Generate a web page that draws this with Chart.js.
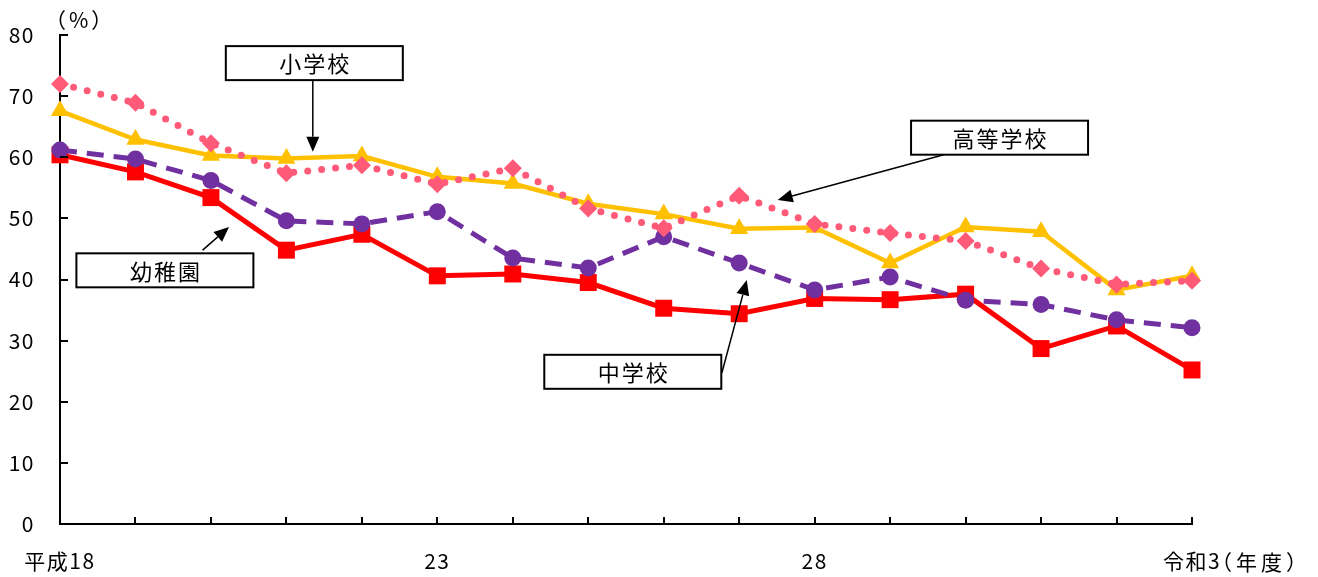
<!DOCTYPE html>
<html>
<head>
<meta charset="utf-8">
<script src="https://cdn.jsdelivr.net/npm/chart.js@4"></script>
<style>
  body { margin: 0; background: #fff; }
  canvas { display: block; }
</style>
</head>
<body>
<canvas id="chart" width="1318" height="577"></canvas>
<script>
// 年度ラベル（表示するのは平成18・23・28・令和3だけ）
const years = ['平成18', '', '', '', '', '23', '', '', '', '', '28', '', '', '', '', '令和3'];

// 各校種の値（%）
const youchien = [60.4, 57.6, 53.4, 44.8, 47.4, 40.6, 40.9, 39.5, 35.3, 34.4, 36.9, 36.7, 37.6, 28.7, 32.4, 25.2];
const shougakkou = [67.6, 62.9, 60.3, 59.8, 60.2, 56.8, 55.7, 52.4, 50.7, 48.3, 48.5, 42.7, 48.6, 47.8, 38.3, 40.6];
const chuugakkou = [61.2, 59.7, 56.2, 49.6, 49.1, 51.1, 43.5, 41.9, 47.0, 42.7, 38.3, 40.4, 36.6, 35.9, 33.4, 32.1];
const koutougakkou = [72.0, 68.9, 62.3, 57.4, 58.7, 55.6, 58.2, 51.6, 48.4, 53.7, 49.1, 47.6, 46.3, 41.8, 39.2, 39.8];

const yTicks = [0, 10, 20, 30, 40, 50, 60, 70, 80];

const FONT = '"Noto Sans CJK JP", "Noto Sans", sans-serif';

// 吹き出し（位置はデータ座標：x = 年度の番号, y = %）
const callouts = [
  { text: '小学校', x: 3.37, y: 75.4, from: [3.35, 72.6], to: [3.35, 60.9] },
  { text: '幼稚園', x: 1.39, y: 41.5, from: [1.89, 44.8], to: [2.24, 48.6] },
  { text: '中学校', x: 7.59, y: 24.9, from: [8.77, 24.7], to: [9.10, 39.9] },
  { text: '高等学校', x: 12.45, y: 63.2, from: [11.71, 60.4], to: [9.51, 53.0] }
];

function drawArrow(ctx, x1, y1, x2, y2) {
  const ang = Math.atan2(y2 - y1, x2 - x1);
  const len = 15, half = 6.5;
  const bx = x2 - Math.cos(ang) * len;
  const by = y2 - Math.sin(ang) * len;
  ctx.beginPath();
  ctx.moveTo(x1, y1);
  ctx.lineTo(bx, by);
  ctx.stroke();
  ctx.beginPath();
  ctx.moveTo(x2, y2);
  ctx.lineTo(bx - Math.sin(ang) * half, by + Math.cos(ang) * half);
  ctx.lineTo(bx + Math.sin(ang) * half, by - Math.cos(ang) * half);
  ctx.closePath();
  ctx.fill();
}

const extras = {
  id: 'extras',
  beforeDraw(chart) {
    // 元の図は字間がやや広い
    chart.ctx.letterSpacing = '1.5px';
  },
  afterDraw(chart) {
    const ctx = chart.ctx;
    const xs = chart.scales.x;
    const ys = chart.scales.y;
    const area = chart.chartArea;
    ctx.save();
    ctx.strokeStyle = '#000';
    ctx.fillStyle = '#000';
    ctx.lineWidth = 2;

    // 内向きの目盛り
    ctx.beginPath();
    yTicks.forEach(v => {
      if (v === 0) return;
      const py = Math.round(ys.getPixelForValue(v));
      ctx.moveTo(area.left, py);
      ctx.lineTo(area.left + 8, py);
    });
    years.forEach((_, i) => {
      if (i === 0) return;
      const px = Math.round(xs.getPixelForValue(i));
      ctx.moveTo(px, area.bottom);
      ctx.lineTo(px, area.bottom - 7);
    });
    ctx.stroke();

    // 単位
    ctx.textBaseline = 'middle';
    ctx.textAlign = 'left';
    ctx.font = '21px ' + FONT;
    ctx.letterSpacing = '3px';
    ctx.fillText('（%）', area.left - 15, area.top - 15);

    ctx.letterSpacing = '4px';
    const lastX = xs.getPixelForValue(years.length - 1);
    ctx.fillText('（年度）', lastX + 19, area.bottom + 38);

    // 吹き出しと矢印
    ctx.lineWidth = 1.5;
    callouts.forEach(c => {
      drawArrow(ctx,
        xs.getPixelForValue(c.from[0]), ys.getPixelForValue(c.from[1]),
        xs.getPixelForValue(c.to[0]), ys.getPixelForValue(c.to[1]));
    });
    ctx.lineWidth = 2;
    ctx.font = '22px ' + FONT;
    ctx.letterSpacing = '2px';
    callouts.forEach(c => {
      const cx = xs.getPixelForValue(c.x);
      const cy = ys.getPixelForValue(c.y);
      const bw = 177, bh = 34;
      ctx.fillStyle = '#fff';
      ctx.fillRect(cx - bw / 2, cy - bh / 2, bw, bh);
      ctx.strokeRect(cx - bw / 2, cy - bh / 2, bw, bh);
      ctx.fillStyle = '#000';
      ctx.textAlign = 'center';
      ctx.fillText(c.text, cx + 1, cy + 1);
    });
    ctx.restore();
  }
};

new Chart(document.getElementById('chart'), {
  type: 'line',
  data: {
    labels: years,
    datasets: [
      {
        label: '高等学校',
        data: koutougakkou,
        borderColor: '#FF5A78',
        backgroundColor: '#FF5A78',
        borderWidth: 7,
        borderDash: [0, 14],
        borderCapStyle: 'round',
        pointStyle: 'rectRot',
        pointRadius: 9,
        pointBorderWidth: 0,
        clip: false
      },
      {
        label: '小学校',
        data: shougakkou,
        borderColor: '#FFC000',
        backgroundColor: '#FFC000',
        borderWidth: 4.5,
        pointStyle: 'triangle',
        pointRadius: 10.5,
        pointBorderWidth: 0,
        clip: false
      },
      {
        label: '中学校',
        data: chuugakkou,
        borderColor: '#7030A0',
        backgroundColor: '#7030A0',
        borderWidth: 5,
        borderDash: [17, 10],
        pointStyle: 'circle',
        pointRadius: 8.5,
        pointBorderWidth: 0,
        clip: false
      },
      {
        label: '幼稚園',
        data: youchien,
        borderColor: '#FF0000',
        backgroundColor: '#FF0000',
        borderWidth: 5,
        pointStyle: 'rect',
        pointRadius: 12,
        pointBorderWidth: 0,
        clip: false
      }
    ]
  },
  options: {
    responsive: false,
    animation: false,
    events: [],
    layout: { padding: { top: 35, right: 126, left: 0, bottom: 0 } },
    plugins: {
      legend: { display: false },
      tooltip: { enabled: false }
    },
    scales: {
      x: {
        offset: false,
        grid: { display: false, drawTicks: false },
        border: { display: true, color: '#000', width: 2 },
        ticks: {
          autoSkip: false,
          maxRotation: 0,
          padding: 24,
          color: '#000',
          font: { family: FONT, size: 21 }
        },
        afterFit(scale) { scale.height = 53; }
      },
      y: {
        min: 0,
        max: 80,
        grid: { display: false, drawTicks: false },
        border: { display: true, color: '#000', width: 2 },
        ticks: {
          stepSize: 10,
          padding: 25,
          color: '#000',
          font: { family: FONT, size: 21 }
        },
        afterFit(scale) {
          scale.width = 60;
          scale.paddingTop = 0;
          scale.paddingBottom = 0;
        }
      }
    }
  },
  plugins: [extras]
});
</script>
</body>
</html>
